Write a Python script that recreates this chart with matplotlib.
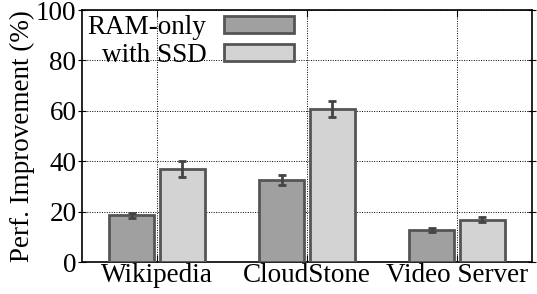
import matplotlib
matplotlib.use("Agg")
import matplotlib.pyplot as plt
import numpy as np

categories = ["Wikipedia", "CloudStone", "Video Server"]
ram_only = [18.5, 32.5, 12.7]
ram_err = [1.0, 2.0, 0.7]
with_ssd = [36.9, 60.7, 16.7]
ssd_err = [3.3, 3.2, 1.0]
series_labels = ["RAM-only", "with SSD"]
yticks = [0, 20, 40, 60, 80, 100]

plt.rcParams['font.family'] = ['Liberation Serif', 'DejaVu Serif']
fig = plt.figure(figsize=(5.37, 2.94), dpi=100)
ax = fig.add_axes([82/537, 32/294, 450/537, 252/294])

x = np.arange(len(categories))
w = 0.3
off = 0.167
kw = dict(edgecolor="#555555", linewidth=2, zorder=3,
          error_kw=dict(ecolor="#444444", elinewidth=2, capsize=3, capthick=2))
ax.bar(x - off, ram_only, w, yerr=ram_err, color="#a0a0a0", label=series_labels[0], **kw)
ax.bar(x + off, with_ssd, w, yerr=ssd_err, color="#d3d3d3", label=series_labels[1], **kw)

ax.set_xlim(-0.5, 2.5)
ax.set_ylim(0, 100)
ax.set_yticks(yticks)
ax.set_xticks(x)
ax.set_xticklabels(categories, fontsize=19.5)
ax.tick_params(axis='y', labelsize=19.5, direction='inout', length=6, right=True, pad=1)
ax.tick_params(axis='x', direction='in', length=5, top=True, pad=1)
ax.set_ylabel("Perf. Improvement (%)", fontsize=19.5, labelpad=1)
ax.grid(True, linestyle=(0, (1, 1.5)), color="black", linewidth=0.7, zorder=0)
ax.set_axisbelow(True)
for s in ax.spines.values():
    s.set_linewidth(1.2)

ax.legend(loc="upper left", frameon=False, markerfirst=False, fontsize=19.5,
          handlelength=2.6, handleheight=0.6, labelspacing=0.1,
          borderaxespad=0.05, borderpad=0.15, handletextpad=0.65, alignment='right')

fig.savefig("out.png", dpi=100)
